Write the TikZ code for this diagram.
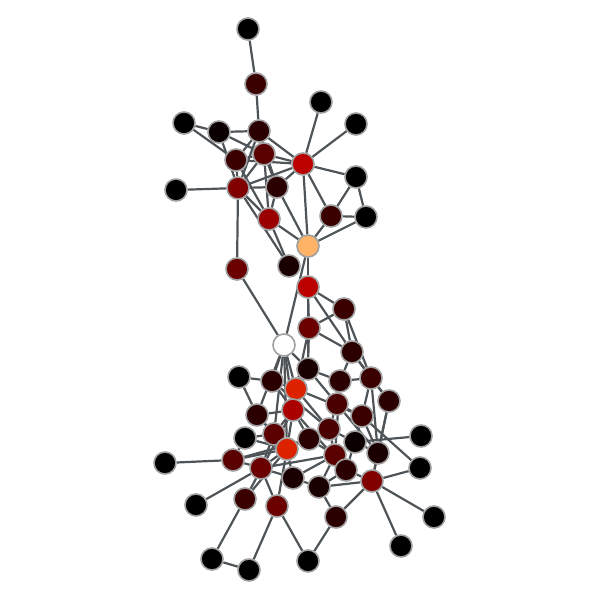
\documentclass[tikz,border=0pt]{standalone}
\usetikzlibrary{backgrounds}
\definecolor{ck}{HTML}{000000}
\definecolor{ck2}{HTML}{0A0000}
\definecolor{cda}{HTML}{1A0000}
\definecolor{cdb}{HTML}{2A0000}
\definecolor{cdc}{HTML}{3A0000}
\definecolor{cdd}{HTML}{4A0000}
\definecolor{cde}{HTML}{5A0000}
\definecolor{cdf}{HTML}{6A0000}
\definecolor{cdh}{HTML}{800000}
\definecolor{cr9}{HTML}{9A0000}
\definecolor{cra}{HTML}{AA0000}
\definecolor{crb}{HTML}{BB0000}
\definecolor{crr}{HTML}{DD2200}
\definecolor{cor}{HTML}{FFB366}
\definecolor{cedge}{HTML}{4E5458}
\definecolor{cbord}{HTML}{A0A0A0}
\tikzset{
  vx/.style={circle, minimum size=22pt, inner sep=0pt, draw=cbord, line width=1.6pt, fill=#1},
  ed/.style={draw=cedge, line width=2.2pt}
}
\begin{document}
\begin{tikzpicture}[x=1pt,y=-1pt]
\useasboundingbox (0,0) rectangle (600,600);
\node[vx=ck] (n1) at (248,29) {};
\node[vx=cdc] (n2) at (256,84) {};
\node[vx=ck] (n3) at (321,102) {};
\node[vx=ck] (n4) at (184,123) {};
\node[vx=ck2] (n5) at (219,132) {};
\node[vx=cdb] (n6) at (259,131) {};
\node[vx=ck] (n7) at (356,124) {};
\node[vx=cdc] (n8) at (236,160) {};
\node[vx=cde] (n9) at (264,154) {};
\node[vx=crb] (n10) at (303,164) {};
\node[vx=ck] (n11) at (176,190) {};
\node[vx=cdh] (n12) at (238,188) {};
\node[vx=cdb] (n13) at (277,187) {};
\node[vx=ck] (n14) at (356,177) {};
\node[vx=cr9] (n15) at (269,219) {};
\node[vx=cdc] (n16) at (331,216) {};
\node[vx=ck] (n17) at (366,217) {};
\node[vx=cor] (n18) at (308,246) {};
\node[vx=cdf] (n19) at (237,269) {};
\node[vx=cda] (n20) at (289,266) {};
\node[vx=crb] (n21) at (308,287) {};
\node[vx=cdc] (n22) at (344,309) {};
\node[vx=cdf] (n23) at (309,328) {};
\node[vx=white] (n24) at (284,345) {};
\node[vx=cdb] (n25) at (352,352) {};
\node[vx=ck] (n26) at (239,377) {};
\node[vx=cdb] (n27) at (272,381) {};
\node[vx=cda] (n28) at (308,369) {};
\node[vx=crr] (n29) at (296,389) {};
\node[vx=cdb] (n30) at (340,381) {};
\node[vx=cdc] (n31) at (371,378) {};
\node[vx=cra] (n32) at (293,410) {};
\node[vx=cdd] (n33) at (337,404) {};
\node[vx=cdb] (n34) at (389,401) {};
\node[vx=cdb] (n35) at (257,415) {};
\node[vx=cdc] (n36) at (362,416) {};
\node[vx=ck] (n37) at (245,438) {};
\node[vx=cde] (n38) at (274,434) {};
\node[vx=cdb] (n39) at (309,439) {};
\node[vx=cdd] (n40) at (329,429) {};
\node[vx=ck2] (n41) at (355,442) {};
\node[vx=ck] (n42) at (421,436) {};
\node[vx=ck] (n43) at (165,463) {};
\node[vx=cde] (n44) at (233,460) {};
\node[vx=crr] (n45) at (287,449) {};
\node[vx=cdf] (n46) at (261,468) {};
\node[vx=cde] (n47) at (335,455) {};
\node[vx=cda] (n48) at (378,453) {};
\node[vx=cdb] (n49) at (346,470) {};
\node[vx=ck] (n50) at (420,468) {};
\node[vx=ck] (n51) at (196,505) {};
\node[vx=cdc] (n52) at (245,499) {};
\node[vx=cda] (n53) at (293,478) {};
\node[vx=cda] (n54) at (319,487) {};
\node[vx=cdh] (n55) at (372,481) {};
\node[vx=cdf] (n56) at (277,506) {};
\node[vx=cdb] (n57) at (336,517) {};
\node[vx=ck] (n58) at (434,517) {};
\node[vx=ck] (n59) at (212,559) {};
\node[vx=ck] (n60) at (249,570) {};
\node[vx=ck] (n61) at (308,561) {};
\node[vx=ck] (n62) at (401,546) {};
\begin{scope}[on background layer]
\foreach \a/\b in {n1/n2,n2/n6,n4/n5,n4/n8,n5/n6,n5/n9,n5/n12,n6/n8,n6/n9,n6/n10,n6/n12,n6/n13,
  n8/n9,n8/n12,n8/n10,n8/n15,n9/n10,n9/n12,n9/n13,n9/n15,n10/n3,n10/n7,n10/n14,n10/n12,n10/n13,
  n10/n16,n10/n18,n11/n12,n12/n13,n12/n15,n12/n19,n12/n20,n13/n15,n13/n18,n14/n16,n14/n17,
  n16/n17,n16/n18,n17/n18,n15/n18,n15/n20,n18/n21,n18/n24,n19/n24,n21/n22,n21/n25,n21/n23,
  n21/n28,n22/n23,n22/n25,n22/n31,n23/n25,n23/n28,n23/n29,n25/n30,n25/n31,n25/n34,
  n24/n27,n24/n29,n24/n32,n24/n35,n24/n45,n24/n38,n24/n28,
  n26/n27,n26/n35,n27/n29,n27/n32,n27/n40,n28/n29,n28/n30,n28/n33,n29/n32,n29/n40,n29/n36,
  n30/n31,n30/n33,n30/n47,n31/n34,n31/n36,n31/n48,n33/n36,n33/n40,n33/n48,n34/n48,n34/n55,
  n35/n32,n35/n38,n35/n45,n36/n48,n36/n41,n36/n50,n37/n38,n37/n44,n37/n45,n38/n45,n38/n46,
  n38/n32,n39/n32,n39/n40,n39/n45,n39/n47,n40/n41,n40/n47,n41/n42,n41/n48,n41/n49,n43/n44,
  n44/n46,n44/n45,n44/n39,n45/n46,n45/n52,n45/n53,n45/n56,n46/n51,n46/n53,n46/n56,n46/n47,
  n47/n49,n47/n53,n47/n54,n48/n55,n49/n55,n49/n54,n50/n55,n52/n59,n52/n32,n53/n54,n54/n55,
  n55/n58,n55/n62,n55/n57,n56/n60,n56/n61,n57/n61,n57/n54,n59/n60,n32/n45,n32/n49}
  {\draw[ed] (\a) -- (\b);}
\end{scope}
\end{tikzpicture}
\end{document}
